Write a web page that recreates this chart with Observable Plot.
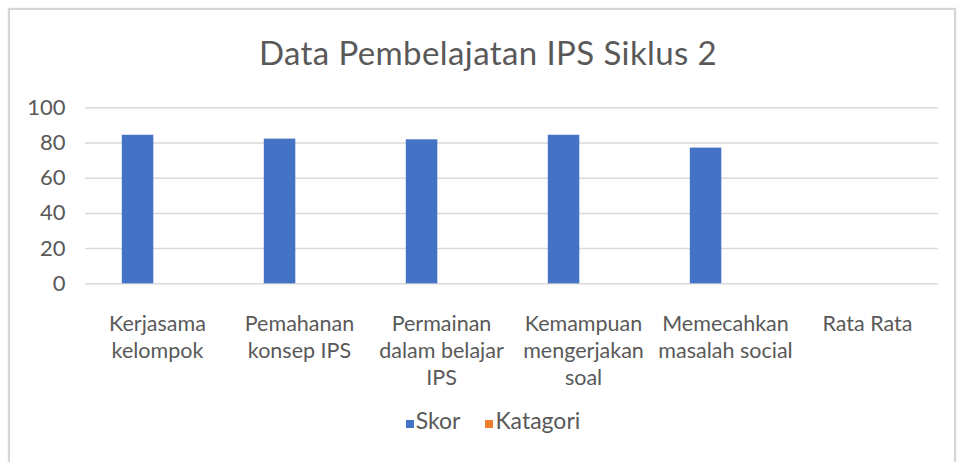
<!DOCTYPE html>
<html>
<head>
<meta charset="utf-8">
<script src="https://cdn.jsdelivr.net/npm/d3@7"></script>
<script src="https://cdn.jsdelivr.net/npm/@observablehq/plot@0.6"></script>
<style>
  html, body { margin: 0; padding: 0; background: #fff; }
  #wrap { position: relative; width: 957px; height: 462px; overflow: hidden; font-family: Lato, "Noto Sans", sans-serif; }
  #frame { position: absolute; left: 8px; top: 8px; width: 944px; height: 470px; border: 2px solid #d6d6d6; box-shadow: 0 0 2px #e6e6e6; }
  #title { position: absolute; left: 0; width: 976px; top: 32px; text-align: center; font-size: 33px; line-height: 40px; letter-spacing: 0.4px; color: #595959; white-space: nowrap; }
  #chart { position: absolute; left: 0; top: 0; }
  #legend { position: absolute; left: 0; width: 986px; top: 408px; text-align: center; font-size: 23px; line-height: 24px; color: #595959; white-space: nowrap; }
  .item { display: inline-block; margin: 0 12.5px; }
  .sw { display: inline-block; width: 8px; height: 8px; margin-right: 2px; vertical-align: 1px; }
</style>
</head>
<body>
<div id="wrap">
  <div id="frame"></div>
  <div id="title"></div>
  <div id="chart"></div>
  <div id="legend"></div>
</div>
<script>
const titleText = "Data Pembelajatan IPS Siklus 2";
const categories = ["Kerjasama kelompok", "Pemahanan konsep IPS", "Permainan dalam belajar IPS", "Kemampuan mengerjakan soal", "Memecahkan masalah social", "Rata Rata"];
const tickLabels = ["Kerjasama\nkelompok", "Pemahanan\nkonsep IPS", "Permainan\ndalam belajar\nIPS", "Kemampuan\nmengerjakan\nsoal", "Memecahkan\nmasalah social", "Rata Rata"];
const skor = [84.4, 82.2, 81.8, 84.4, 77.1, null];
const katagori = [null, null, null, null, null, null];
const series = ["Skor", "Katagori"];
const seriesColors = ["#4472C4", "#ED7D31"];
const yTicks = [0, 20, 40, 60, 80, 100];

document.getElementById("title").textContent = titleText;

const rows = categories.map((c, i) => ({category: c, label: tickLabels[i], skor: skor[i], katagori: katagori[i]}));

const chart = Plot.plot({
  width: 957,
  height: 400,
  marginLeft: 85,
  marginRight: 19,
  marginTop: 107.3,
  marginBottom: 116.7,
  style: {background: "transparent", overflow: "visible", fontFamily: "Lato, 'Noto Sans', sans-serif"},
  x: {domain: categories, padding: 0, axis: null},
  y: {domain: [0, 100], axis: null},
  marks: [
    Plot.ruleY(yTicks, {stroke: "#d9d9d9", strokeWidth: 1.5}),
    Plot.barY(rows.filter(d => d.skor != null), {x: "category", y: "skor", fill: seriesColors[0], insetLeft: 35.8, insetRight: 74.7}),
    Plot.barY(rows.filter(d => d.katagori != null), {x: "category", y: "katagori", fill: seriesColors[1], insetLeft: 67.5, insetRight: 43}),
    Plot.text(yTicks, {y: d => d, text: d => String(d), frameAnchor: "left", textAnchor: "end", dx: -20, fontSize: 22, fill: "#595959"}),
    Plot.text(rows, {x: "category", y: () => 0, text: "label", lineAnchor: "top", dy: 28, fontSize: 21.5, lineHeight: 1.25, fill: "#595959"})
  ]
});
document.getElementById("chart").appendChild(chart);

const legend = document.getElementById("legend");
series.forEach((s, i) => {
  const item = document.createElement("span");
  item.className = "item";
  const sw = document.createElement("span");
  sw.className = "sw";
  sw.style.background = seriesColors[i];
  item.appendChild(sw);
  item.appendChild(document.createTextNode(s));
  legend.appendChild(item);
});
</script>
</body>
</html>
